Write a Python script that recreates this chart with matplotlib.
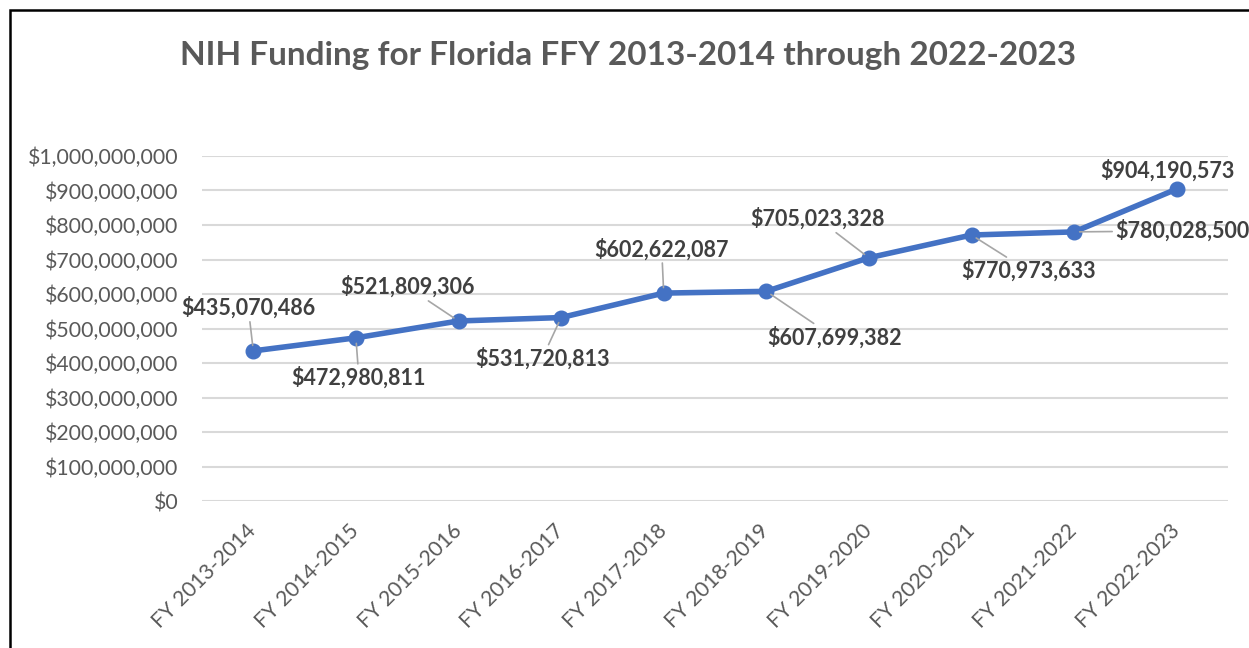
import matplotlib
matplotlib.use("Agg")
import matplotlib.pyplot as plt
import matplotlib.patches as patches
from matplotlib.ticker import FuncFormatter

categories = ["FY 2013-2014", "FY 2014-2015", "FY 2015-2016", "FY 2016-2017", "FY 2017-2018",
              "FY 2018-2019", "FY 2019-2020", "FY 2020-2021", "FY 2021-2022", "FY 2022-2023"]
funding = [435070486, 472980811, 521809306, 531720813, 602622087,
           607699382, 705023328, 770973633, 780028500, 904190573]
y_ticks = [0, 100000000, 200000000, 300000000, 400000000, 500000000,
           600000000, 700000000, 800000000, 900000000, 1000000000]
title = "NIH Funding for Florida FFY 2013-2014 through 2022-2023"

# label offsets in pixels (label centre relative to point), and leader flag
label_offsets = [(-5, 43), (3, -40), (-51, 34), (-19, -41), (-2, 44),
                 (68, -46), (-51, 39), (57, -36), (108, 1), (-9, 18)]
leaders = [True, True, True, True, True, True, True, True, True, False]

plt.rcParams['font.family'] = ['Lato', 'DejaVu Sans']

W, H = 1249, 648
fig = plt.figure(figsize=(W / 100, H / 100), dpi=100)
ax = fig.add_axes([202 / W, 147 / H, (1228 - 202) / W, (492 - 147) / H])

x = list(range(len(categories)))
ax.plot(x, funding, color="#4472C4", lw=4.0, marker="o", markersize=10.5, zorder=3,
        solid_capstyle="round")

ax.set_xlim(-0.5, len(categories) - 0.5)
ax.set_ylim(0, 1000000000)
ax.set_yticks(y_ticks)
ax.yaxis.set_major_formatter(FuncFormatter(lambda v, p: "${:,.0f}".format(v)))
ax.grid(axis="y", color="#D9D9D9", lw=1.5)
ax.set_axisbelow(True)
for s in ax.spines.values():
    s.set_visible(False)
ax.tick_params(axis="y", length=0, pad=17, labelsize=15.3, labelcolor="#595959")
ax.tick_params(axis="x", length=0, pad=19, labelsize=15.3, labelcolor="#595959")
ax.set_xticks(x)
ax.set_xticklabels(categories, rotation=45, ha="right", va="center", rotation_mode="anchor")

for i, (v, off, ld) in enumerate(zip(funding, label_offsets, leaders)):
    kw = {}
    if ld:
        kw["arrowprops"] = dict(arrowstyle="-", color="#A6A6A6", lw=1.2, shrinkA=0, shrinkB=4)
    ax.annotate("${:,.0f}".format(v), xy=(i, v), xytext=off, textcoords="offset pixels",
                ha="center", va="center", fontsize=15.5, fontweight="bold", color="#404040",
                annotation_clip=False, **kw)

fig.text(628 / W, 1 - 56 / H, title, ha="center", va="center", fontsize=24,
         fontweight="bold", color="#595959")

fig.patches.append(patches.Rectangle((10 / W, -0.1), 1.2, 1.1 - 10 / H, transform=fig.transFigure,
                                     fill=False, edgecolor="black", lw=1.8, clip_on=False))

fig.savefig("out.png", dpi=100)
